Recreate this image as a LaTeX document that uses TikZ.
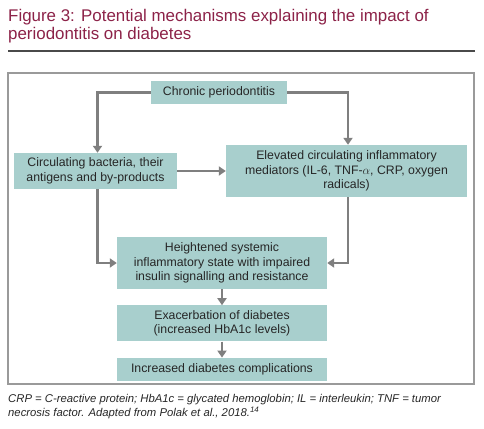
\documentclass[tikz,border=0pt]{standalone}
\usepackage{fontspec}
\setmainfont{Liberation Sans}
\usetikzlibrary{positioning,arrows.meta}
\definecolor{figtitle}{HTML}{8C2248}
\definecolor{mechfill}{HTML}{A8CFCD}
\definecolor{mechline}{HTML}{7F7F7F}
\definecolor{frameline}{HTML}{9A9A9A}
\definecolor{ruleline}{HTML}{4A4A4A}

\begin{document}
\begin{tikzpicture}[
  x=1pt, y=1pt,
  font=\fontsize{12.3}{14.8}\selectfont,
  mbox/.style={fill=mechfill, align=center, inner sep=0pt, text=black!85},
  arr/.style={-{Triangle[length=7pt,width=9pt]}, line width=2.2pt, mechline},
  captext/.style={anchor=base west, align=left, inner sep=0pt}
]
\useasboundingbox (0,0) rectangle (484,-428);
% ----- heading and rule -----
\node[captext, text=figtitle, font=\fontsize{16.9}{18.8}\selectfont] (title) at (8,-40)
  {Figure 3: Potential mechanisms explaining the impact of\\periodontitis on diabetes};
\draw[ruleline, line width=1.2pt] (8,-51) -- (475,-51);
\draw[frameline, line width=1.4pt] (8,-73) rectangle (474,-384);
% ----- top row: source and its two branches -----
\node[mbox, minimum width=136pt, minimum height=23pt] (chronic) at (219,-92.5)
  {Chronic periodontitis};
\node[mbox, minimum width=163pt, minimum height=36pt] (bacteria) at (95.5,-171)
  {Circulating bacteria, their\\antigens and by-products};
\node[mbox, minimum width=241pt, minimum height=52pt] (mediators) at (346.5,-171)
  {Elevated circulating inflammatory\\mediators (IL-6, TNF-$\alpha$, CRP, oxygen\\radicals)};
\draw[arr] (chronic.west) -| ([xshift=2pt]bacteria.north);
\draw[arr] (chronic.east) -| ([xshift=1.5pt]mediators.north);
\draw[arr] (bacteria) -- (mediators);
% ----- centre column down to the outcome -----
\node[mbox, minimum width=210pt, minimum height=52pt] (systemic) at (222,-263)
  {Heightened systemic\\inflammatory state with impaired\\insulin signalling and resistance};
\node[mbox, minimum width=210pt, minimum height=36pt, below=16pt of systemic] (exacerb)
  {Exacerbation of diabetes\\(increased HbA1c levels)};
\node[mbox, minimum width=210pt, minimum height=23pt, below=16pt of exacerb] (complic)
  {Increased diabetes complications};
\draw[arr] ([xshift=2pt]bacteria.south) |- (systemic.west);
\draw[arr] ([xshift=1.5pt]mediators.south) |- (systemic.east);
\foreach \a/\b in {systemic/exacerb, exacerb/complic}{\draw[arr] (\a) -- (\b);}
% ----- footnote -----
\node[captext, text=black!85, font=\fontsize{11.3}{14}\selectfont\itshape] (note) at (8,-416)
  {CRP = C-reactive protein; HbA1c = glycated hemoglobin; IL = interleukin; TNF = tumor\\necrosis factor. Adapted from Polak et al., 2018.\textsuperscript{14}};
\end{tikzpicture}
\end{document}
